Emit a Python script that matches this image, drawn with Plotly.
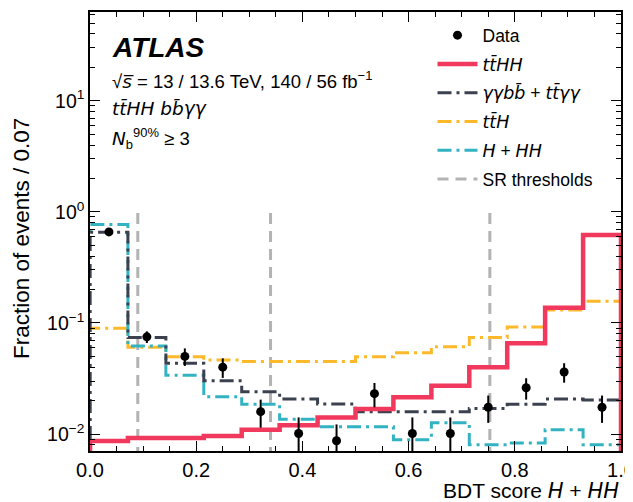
import plotly.graph_objects as go

# ---- data ----
bin_edges = [0.0, 0.0714, 0.1429, 0.2143, 0.2857, 0.3571, 0.4286, 0.5,
             0.5714, 0.6429, 0.7143, 0.7857, 0.8571, 0.9286, 1.0]
bin_centers = [0.0357, 0.1071, 0.1786, 0.25, 0.3214, 0.3929, 0.4643,
               0.5357, 0.6071, 0.6786, 0.75, 0.8214, 0.8929, 0.9643]

data_vals = [0.66, 0.075, 0.050, 0.040, 0.0159, 0.0101, 0.0087,
             0.0231, 0.0101, 0.0101, 0.0174, 0.0261, 0.0362, 0.0174]
data_err = [0.02, 0.009, 0.009, 0.008, 0.0045, 0.004, 0.0035,
            0.0057, 0.004, 0.004, 0.0048, 0.0057, 0.0072, 0.0048]

tthh = [0.00865, 0.0092, 0.0092, 0.0096, 0.0109, 0.0120, 0.0141,
        0.0168, 0.0214, 0.0272, 0.0399, 0.0656, 0.137, 0.62]
yybb = [0.656, 0.0738, 0.0433, 0.0302, 0.0240, 0.0207, 0.0186,
        0.0159, 0.0159, 0.0159, 0.0170, 0.0185, 0.0207, 0.0202]
tth = [0.0895, 0.0604, 0.0497, 0.0464, 0.0449, 0.0449, 0.0449,
       0.0497, 0.0540, 0.0612, 0.0738, 0.0920, 0.131, 0.157]
h_hh = [0.77, 0.062, 0.0338, 0.0217, 0.0185, 0.0136, 0.0116,
        0.0116, 0.0089, 0.0126, 0.0080, 0.0083, 0.0109, 0.0080]

sr_thresholds = [0.09, 0.34, 0.753]

y_floor = 1e-4  # below visible range, closes the step outlines
y_sr_top = 1.0

RED = "#f0395c"
GREY_DARK = "#3c4150"
ORANGE = "#fdb92a"
CYAN = "#33b3c2"
SR_GREY = "#b3b3b3"
FONT = "Liberation Sans, Arial, Helvetica, sans-serif"


def m(s):
    """math-style italic text (DejaVu Sans Oblique, like matplotlib mathtext)"""
    return "<span style='font-family:DejaVu Sans'><i>%s</i></span>" % s


def step_xy(vals):
    xs = [bin_edges[0]] + list(bin_edges) + [bin_edges[-1]]
    ys = [y_floor] + list(vals) + [vals[-1], y_floor]
    return xs, ys


fig = go.Figure()

DASHDOT = "14px,5px,3px,5px"

# SR threshold lines
sr_x, sr_y = [], []
for t in sr_thresholds:
    sr_x += [t, t, None]
    sr_y += [y_floor, y_sr_top, None]
fig.add_trace(go.Scatter(x=sr_x, y=sr_y, mode="lines", name="SR thresholds",
                         line=dict(color=SR_GREY, width=3, dash="11px,7px"),
                         legendrank=6, legendgroup="g6"))

TB = "t\u0304"
for vals, name, color, rank in [
        (tth, m("t" + TB + "H"), ORANGE, 4),
        (h_hh, m("H") + " + " + m("HH"), CYAN, 5),
        (yybb, m("\u03b3\u03b3bb\u0304") + " + " + m("t" + TB + "\u03b3\u03b3"), GREY_DARK, 3)]:
    xs, ys = step_xy(vals)
    fig.add_trace(go.Scatter(x=xs, y=ys, mode="lines", name=name, line_shape="hv",
                             line=dict(color=color, width=3, dash=DASHDOT),
                             legendrank=rank, legendgroup="g%d" % rank))

xs, ys = step_xy(tthh)
fig.add_trace(go.Scatter(x=xs, y=ys, mode="lines", name=m("t" + TB + "HH"), line_shape="hv",
                         line=dict(color=RED, width=4.5),
                         legendrank=2, legendgroup="g2"))

fig.add_trace(go.Scatter(x=bin_centers, y=data_vals, mode="markers", name="Data",
                         marker=dict(color="black", size=9, symbol="circle"),
                         error_y=dict(type="data", array=data_err, color="black",
                                      thickness=2, width=0),
                         legendrank=1, legendgroup="g1"))

minor_y = []
for e in [0.001, 0.01, 0.1, 1, 10]:
    for k in range(2, 10):
        minor_y.append(k * e)

# the page body keeps its default 8px margin, so the figure is 8px smaller
# and its margins are reduced by 8px to land the plot area at x 90-621, y 12-451
fig.update_layout(
    width=625, height=494,
    margin=dict(l=82, r=12, t=4, b=51),
    paper_bgcolor="white", plot_bgcolor="white",
    font=dict(family=FONT, color="black", size=17),
    showlegend=True,
    legend=dict(x=0.645, y=0.988, xanchor="left", yanchor="top",
                bgcolor="rgba(0,0,0,0)", font=dict(size=17.5, family=FONT),
                tracegroupgap=3, itemwidth=40, traceorder="grouped"),
    xaxis=dict(range=[0, 1], showline=True, linecolor="black", linewidth=1.5,
               mirror="allticks", ticks="inside", ticklen=10, tickwidth=1.2,
               tickcolor="black", dtick=0.2, tick0=0, tickformat=".1f",
               ticklabeloverflow="allow", automargin=False,
               showgrid=False, zeroline=False, tickfont=dict(size=20),
               minor=dict(dtick=0.05, tick0=0, ticks="inside", ticklen=5,
                          tickwidth=1.2, tickcolor="black", showgrid=False)),
    yaxis=dict(type="log", range=[-2.153, 1.80], showline=True, linecolor="black",
               linewidth=1.5, mirror="allticks", ticks="inside", ticklen=10,
               tickwidth=1.2, tickcolor="black",
               tickvals=[0.01, 0.1, 1, 10],
               ticktext=["10<sup>\u22122</sup>", "10<sup>\u22121</sup>",
                         "10<sup>0</sup>", "10<sup>1</sup>"],
               showgrid=False, zeroline=False, tickfont=dict(size=19.5),
               minor=dict(tickvals=minor_y, ticks="inside", ticklen=5,
                          tickwidth=1.2, tickcolor="black", showgrid=False)),
)

ann = [
    dict(text="<b><i>ATLAS</i></b>", x=0.0377, y=0.918, size=28),
    dict(text="\u221a" + m("s\u0305") + " = 13 / 13.6 TeV, 140 / 56 fb<sup>\u22121</sup>",
         x=0.0377, y=0.845, size=18.5),
    dict(text=m("t" + TB + "HH bb\u0304\u03b3\u03b3"), x=0.0377, y=0.781, size=18.5),
    dict(text=m("N") + "<sub>b</sub><sup>90%</sup> \u2265 3", x=0.0377, y=0.712, size=18.5),
]
for a in ann:
    fig.add_annotation(text=a["text"], x=a["x"], y=a["y"], xref="paper", yref="paper",
                       xanchor="left", yanchor="middle", showarrow=False,
                       font=dict(size=a["size"], family=FONT, color="black"))

fig.add_annotation(text="BDT score " + m("H") + " + " + m("HH"), x=1.0, y=-0.09,
                   xref="paper", yref="paper", xanchor="right", yanchor="middle",
                   showarrow=False, font=dict(size=21, family=FONT, color="black"))
fig.add_annotation(text="Fraction of events / 0.07", x=-0.13, y=0.485,
                   xref="paper", yref="paper", xanchor="center", yanchor="middle",
                   textangle=-90, showarrow=False,
                   font=dict(size=22.5, family=FONT, color="black"))

fig.write_html("out.html")
